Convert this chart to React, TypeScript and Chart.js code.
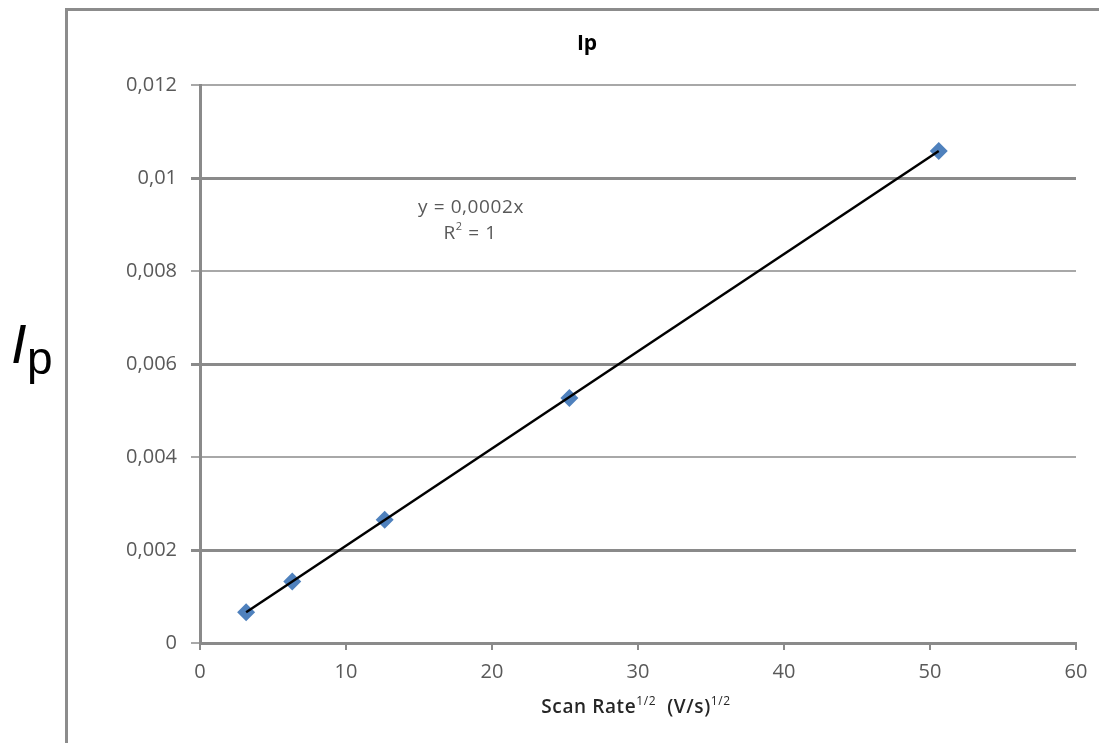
import React, { useEffect, useRef } from "react";
import { Chart, registerables } from "chart.js";

Chart.register(...registerables);

// ---- data ----
const scanRateSqrt = [3.16, 6.32, 12.65, 25.3, 50.6];
const peakCurrent = [0.00066, 0.00132, 0.00265, 0.00527, 0.01058];
const trendX = [3.16, 50.6];
const trendY = [0.00066, 0.01058];
const yTickValues = [0, 0.002, 0.004, 0.006, 0.008, 0.01, 0.012];
const yTickLabels = ["0", "0,002", "0,004", "0,006", "0,008", "0,01", "0,012"];
const xTickLabels = ["0", "10", "20", "30", "40", "50", "60"];
const chartTitle = "Ip";
const equationLine1 = "y = 0,0002x";
const equationLine2 = ["R", "2", " = 1"];
const xAxisTitle = ["Scan Rate", "1/2", "  (V/s)", "1/2"];
const sideLabel = ["I", "p"];

const FONT = "'Open Sans', sans-serif";
const GRID_DARK = "#8a8a8a";
const GRID_LIGHT = "#a8a8a8";

const decorPlugin = {
  id: "decor",
  beforeDraw(chart: any) {
    const ctx = chart.ctx;
    ctx.save();
    ctx.fillStyle = "#ffffff";
    ctx.fillRect(0, 0, chart.width, chart.height);
    ctx.strokeStyle = "#8c8c8c";
    ctx.lineWidth = 3;
    ctx.strokeRect(66.5, 9.5, 1042, 800);
    ctx.restore();
  },
  afterDraw(chart: any) {
    const ctx = chart.ctx;
    ctx.save();
    // title
    ctx.fillStyle = "#000";
    ctx.font = `bold 21px ${FONT}`;
    ctx.textAlign = "center";
    ctx.textBaseline = "middle";
    ctx.fillText(chartTitle, 587, 44);

    // equation
    const segs1 = [{ t: equationLine1, f: `19px ${FONT}`, dy: 0 }];
    drawSegs(ctx, segs1, 471, 208, "#595959", 0.6);
    const segs2 = [
      { t: equationLine2[0], f: `19px ${FONT}`, dy: 0 },
      { t: equationLine2[1], f: `11px ${FONT}`, dy: -7 },
      { t: equationLine2[2], f: `19px ${FONT}`, dy: 0 },
    ];
    drawSegs(ctx, segs2, 470, 234, "#595959", 0.6);

    // x axis title
    const segsX = [
      { t: xAxisTitle[0], f: `600 19px ${FONT}`, dy: 0 },
      { t: xAxisTitle[1], f: `12px ${FONT}`, dy: -6 },
      { t: xAxisTitle[2], f: `600 19px ${FONT}`, dy: 0 },
      { t: xAxisTitle[3], f: `12px ${FONT}`, dy: -6 },
    ];
    drawSegs(ctx, segsX, 636, 708, "#262626", 0.6);

    // big side label
    ctx.fillStyle = "#000";
    ctx.textAlign = "left";
    ctx.textBaseline = "alphabetic";
    ctx.font = `italic 56px 'Liberation Sans', Arial, sans-serif`;
    ctx.fillText(sideLabel[0], 11, 363);
    ctx.font = `46px 'Liberation Sans', Arial, sans-serif`;
    ctx.fillText(sideLabel[1], 27, 374);
    ctx.restore();
  },
};

function drawSegs(ctx: any, segs: any[], cx: number, cy: number, color: string, spacing: number) {
  ctx.textBaseline = "middle";
  ctx.textAlign = "left";
  const widths: number[] = [];
  let total = 0;
  for (const s of segs) {
    ctx.font = s.f;
    let w = 0;
    for (const ch of s.t) w += ctx.measureText(ch).width + spacing;
    widths.push(w);
    total += w;
  }
  let x = cx - total / 2;
  ctx.fillStyle = color;
  segs.forEach((s) => {
    ctx.font = s.f;
    for (const ch of s.t) {
      ctx.fillText(ch, x, cy + s.dy);
      x += ctx.measureText(ch).width + spacing;
    }
  });
}

export default function App() {
  const ref = useRef<HTMLCanvasElement | null>(null);
  useEffect(() => {
    if (!ref.current) return;
    const chart = new Chart(ref.current, {
      type: "scatter",
      data: {
        datasets: [
          {
            type: "line",
            label: "trend",
            data: trendX.map((x, i) => ({ x, y: trendY[i] })),
            borderColor: "#000000",
            borderWidth: 2.5,
            pointRadius: 0,
            fill: false,
            order: 0,
          },
          {
            label: "Ip",
            data: scanRateSqrt.map((x, i) => ({ x, y: peakCurrent[i] })),
            backgroundColor: "#4F81BD",
            borderColor: "#4F81BD",
            pointStyle: "rectRot",
            pointRadius: 9,
            pointBorderWidth: 0,
            order: 1,
          },
        ],
      },
      plugins: [decorPlugin],
      options: {
        animation: false,
        responsive: false,
        devicePixelRatio: 1,
        layout: { padding: { left: 0, right: 23, top: 85, bottom: 0 } },
        plugins: {
          legend: { display: false },
          title: { display: false },
          tooltip: { enabled: false },
        },
        scales: {
          x: {
            type: "linear",
            min: 0,
            max: 60,
            afterFit: (s: any) => {
              s.height = 100;
            },
            afterBuildTicks: (s: any) => {
              s.ticks = xTickLabels.map((l) => ({ value: Number(l) }));
            },
            ticks: {
              callback: (v: any) => {
                const i = xTickLabels.indexOf(String(v));
                return i >= 0 ? xTickLabels[i] : "";
              },
              font: { family: "'Open Sans', sans-serif", size: 20 },
              color: "#595959",
              padding: 10,
              maxRotation: 0,
            },
            grid: {
              drawOnChartArea: false,
              drawTicks: true,
              tickLength: 7,
              color: GRID_DARK,
              lineWidth: 2,
            },
            border: { display: true, color: GRID_DARK, width: 3 },
          },
          y: {
            type: "linear",
            min: 0,
            max: 0.012,
            afterFit: (s: any) => {
              s.width = 200;
            },
            afterBuildTicks: (s: any) => {
              s.ticks = yTickValues.map((v) => ({ value: v }));
            },
            ticks: {
              callback: (v: any, i: number) => yTickLabels[i],
              font: { family: "'Open Sans', sans-serif", size: 20 },
              color: "#595959",
              padding: 14,
            },
            grid: {
              drawTicks: true,
              tickLength: 9,
              color: (c: any) => (c.index % 2 === 1 ? GRID_DARK : GRID_LIGHT),
              lineWidth: (c: any) => (c.index % 2 === 1 ? 3 : 2),
            },
            border: { display: true, color: GRID_DARK, width: 3 },
          },
        },
      },
    } as any);
    return () => chart.destroy();
  }, []);
  return (
    <div style={{ position: "absolute", left: 0, top: 0, width: 1099, height: 743, background: "#fff" }}>
      <canvas ref={ref} width={1099} height={743} style={{ display: "block", width: 1099, height: 743 }} />
    </div>
  );
}
